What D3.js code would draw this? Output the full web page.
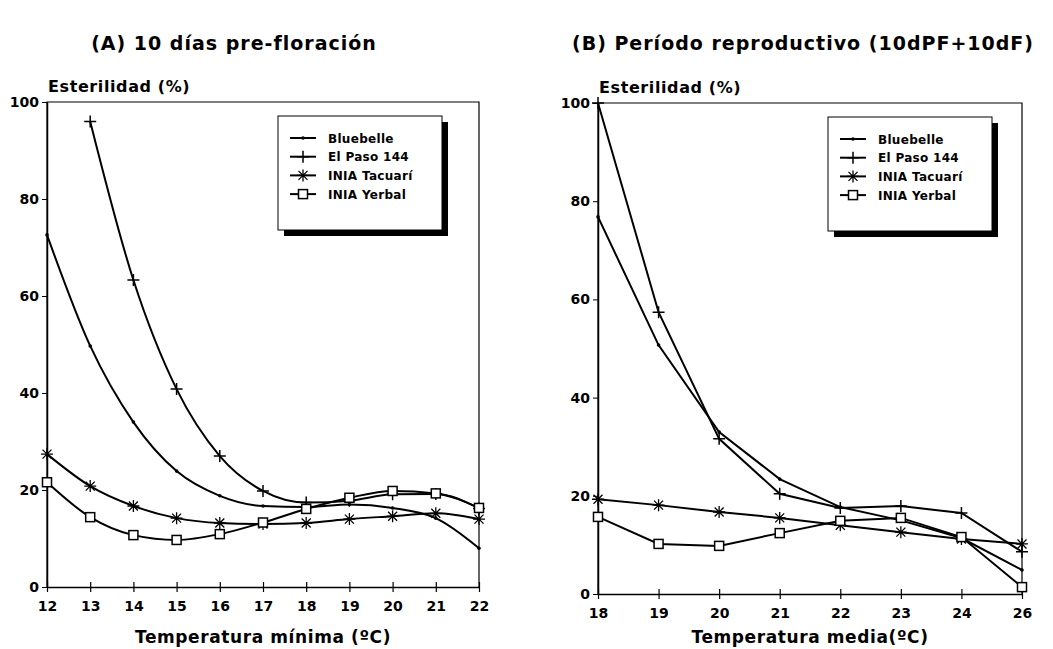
<!DOCTYPE html>
<html>
<head>
<meta charset="utf-8">
<script src="https://cdn.jsdelivr.net/npm/d3@7"></script>
<style>
  body { margin: 0; background: #fff; }
  text { font-family: "DejaVu Sans", sans-serif; font-weight: bold; fill: #000; }
</style>
</head>
<body>
<svg width="1053" height="649"></svg>
<script>
const series = ['Bluebelle', 'El Paso 144', 'INIA Tacuarí', 'INIA Yerbal']
const markers = ['dot', 'plus', 'star', 'square']

// (A) minimum temperature
const tempMin = [12, 13, 14, 15, 16, 17, 18, 19, 20, 21, 22]
const bluebelleA = [72.6, 49.7, 34, 23.9, 18.8, 16.7, 16.5, 17, 16.3, 14.2, 8]
const elPasoA = [null, 96, 63.3, 40.8, 27, 19.8, 17.4, 17.8, 19.1, 19.2, 16.2]
const tacuariA = [27.4, 20.8, 16.7, 14.2, 13.2, 13, 13.2, 14, 14.6, 15.2, 14]
const yerbalA = [21.6, 14.4, 10.7, 9.7, 10.9, 13.3, 16.1, 18.4, 19.8, 19.3, 16.3]

// (B) mean temperature
const tempMed = ['18', '19', '20', '21', '22', '23', '24', '26']
const bluebelleB = [76.8, 50.7, 33, 23.4, 17.7, 15, 11.4, 4.9]
const elPasoB = [100, 57.4, 31.6, 20.4, 17.5, 17.9, 16.5, 8.6]
const tacuariB = [19.3, 18.1, 16.7, 15.5, 14, 12.6, 11.2, 10.2]
const yerbalB = [15.7, 10.2, 9.8, 12.4, 14.9, 15.5, 11.6, 1.4]

const yTicks = [0, 20, 40, 60, 80, 100]

const svg = d3.select('svg')

const drawMarker = (g, type, x, y) => {
  if (type === 'dot') {
    g.append('circle').attr('cx', x).attr('cy', y).attr('r', 1.8).attr('fill', '#000')
  } else if (type === 'plus') {
    g.append('path').attr('d', `M${x-6},${y}H${x+6}M${x},${y-6}V${y+6}`)
      .attr('stroke', '#000').attr('stroke-width', 1.5)
  } else if (type === 'star') {
    g.append('path').attr('d', `M${x-6},${y}H${x+6}M${x},${y-6}V${y+6}M${x-4.5},${y-4.5}L${x+4.5},${y+4.5}M${x-4.5},${y+4.5}L${x+4.5},${y-4.5}`)
      .attr('stroke', '#000').attr('stroke-width', 1.3)
  } else {
    g.append('rect').attr('x', x-4.5).attr('y', y-4.5).attr('width', 9).attr('height', 9)
      .attr('fill', '#fff').attr('stroke', '#000').attr('stroke-width', 1.5)
  }
}

const drawPanel = (cfg) => {
  const { x, y, cats, data, curve } = cfg
  const g = svg.append('g')
  const [x0, x1] = x.range()
  const [y0, y1] = y.range()

  // frame
  g.append('path').attr('d', `M${x0},${y0}V${y1}H${x1}V${y0}`)
    .attr('fill', 'none').attr('stroke', '#000').attr('stroke-width', 1.2)

  // x axis with crossing ticks
  const xAxis = g.append('g').attr('transform', `translate(0,${y0})`)
    .call(d3.axisBottom(x).tickValues(cats).tickSize(5).tickPadding(9).tickSizeOuter(0))
  xAxis.selectAll('.tick line').attr('y1', -5).attr('stroke-width', 1.2)
  xAxis.select('.domain').attr('stroke-width', 1.5)
  xAxis.selectAll('text').attr('font-size', 14).attr('font-family', '"DejaVu Sans"')

  const yAxis = g.append('g').attr('transform', `translate(${x0},0)`)
    .call(d3.axisLeft(y).tickValues(yTicks).tickSize(5).tickPadding(3).tickSizeOuter(0))
  yAxis.select('.domain').attr('stroke-width', 1.5)
  yAxis.selectAll('text').attr('font-size', 14).attr('font-family', '"DejaVu Sans"')

  g.append('text').attr('x', x0 + 1).attr('y', y1 - 10)
    .attr('font-size', 16).attr('letter-spacing', 0.6).text('Esterilidad (%)')
  g.append('text').attr('x', cfg.titleX).attr('y', 50).attr('text-anchor', 'middle')
    .attr('font-size', 19).attr('letter-spacing', 1).text(cfg.title)
  g.append('text').attr('x', (x0 + x1) / 2).attr('y', 643).attr('text-anchor', 'middle')
    .attr('font-size', 17).attr('letter-spacing', 0.6).text(cfg.xTitle)

  const line = d3.line()
    .defined(d => d[1] != null)
    .x(d => x(d[0])).y(d => y(d[1]))
    .curve(curve)

  data.forEach((vals, i) => {
    const pts = cats.map((c, j) => [c, vals[j]])
    g.append('path').datum(pts).attr('d', line)
      .attr('fill', 'none').attr('stroke', '#000').attr('stroke-width', 2)
    const mg = g.append('g')
    pts.filter(p => p[1] != null).forEach(p => drawMarker(mg, markers[i], x(p[0]), y(p[1])))
  })

  // legend with drop shadow
  const [lx, ly] = cfg.legend
  const lw = 164, lh = 114
  const lg = g.append('g').attr('transform', `translate(${lx},${ly})`)
  lg.append('rect').attr('x', 6).attr('y', 6).attr('width', lw).attr('height', lh).attr('fill', '#000')
  lg.append('rect').attr('width', lw).attr('height', lh).attr('fill', '#fff').attr('stroke', '#000')
  series.forEach((s, i) => {
    const cy = 22 + i * 18.7
    lg.append('line').attr('x1', 12).attr('x2', 38).attr('y1', cy).attr('y2', cy)
      .attr('stroke', '#000').attr('stroke-width', 2)
    drawMarker(lg, markers[i], 25, cy)
    lg.append('text').attr('x', 50).attr('y', cy + 4.5).attr('font-size', 12)
      .attr('letter-spacing', 0.3).text(s)
  })
}

drawPanel({
  x: d3.scaleLinear().domain([12, 22]).range([47, 479]),
  y: d3.scaleLinear().domain([0, 100]).range([587, 102]),
  cats: tempMin,
  data: [bluebelleA, elPasoA, tacuariA, yerbalA],
  curve: d3.curveMonotoneX,
  legend: [278, 116],
  title: '(A) 10 días pre-floración',
  titleX: 234,
  xTitle: 'Temperatura mínima (ºC)'
})

drawPanel({
  x: d3.scalePoint().domain(tempMed).range([598, 1022]),
  y: d3.scaleLinear().domain([0, 100]).range([594, 103]),
  cats: tempMed,
  data: [bluebelleB, elPasoB, tacuariB, yerbalB],
  curve: d3.curveLinear,
  legend: [828, 117],
  title: '(B) Período reproductivo (10dPF+10dF)',
  titleX: 803,
  xTitle: 'Temperatura media(ºC)'
})
</script>
</body>
</html>
